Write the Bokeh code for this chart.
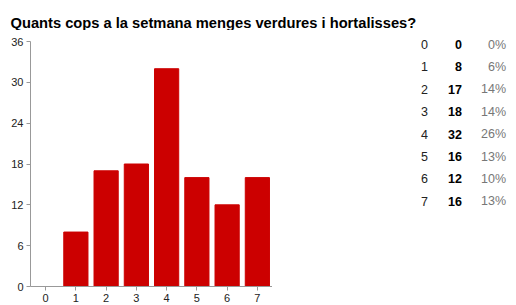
from bokeh.plotting import figure
from bokeh.models import ColumnDataSource, FixedTicker, Range1d, Label
from bokeh.layouts import column, row
from bokeh.core.properties import value
from bokeh.embed import file_html
from bokeh.resources import INLINE

title = "Quants cops a la setmana menges verdures i hortalisses?"
categories = [0, 1, 2, 3, 4, 5, 6, 7]
counts = [0, 8, 17, 18, 32, 16, 12, 16]
percents = ["0%", "6%", "14%", "14%", "26%", "13%", "10%", "13%"]
y_ticks = [0, 6, 12, 18, 24, 30, 36]

FONT = "Liberation Sans"


def bare(fig):
    fig.xaxis.visible = False
    fig.yaxis.visible = False
    fig.xgrid.visible = False
    fig.ygrid.visible = False
    fig.outline_line_color = None
    fig.min_border = 0


# ---- title strip ----
t = figure(width=516, height=30, output_backend="svg", toolbar_location=None,
           x_range=Range1d(0, 516), y_range=Range1d(0, 30))
bare(t)
t.add_layout(Label(x=10, y=8, x_units="screen", y_units="screen", text=title,
                   text_font=FONT, text_font_size="14.7px", text_font_style="bold",
                   text_color="#000000", text_baseline="alphabetic"))

# ---- bar chart ----
p = figure(width=272, height=275, output_backend="svg", toolbar_location=None,
           x_range=Range1d(-0.5, 7.5), y_range=Range1d(0, 36),
           min_border_left=30, min_border_right=0,
           min_border_top=11, min_border_bottom=19)
src = ColumnDataSource(dict(x=categories, top=counts))
p.vbar(x="x", top="top", width=0.8, bottom=0, source=src, color="#cc0000")
p.xgrid.visible = False
p.ygrid.visible = False
p.outline_line_color = None
for ax in (p.xaxis[0], p.yaxis[0]):
    ax.axis_line_color = "#999999"
    ax.major_tick_line_color = "#999999"
    ax.minor_tick_line_color = None
    ax.major_tick_in = 0
    ax.major_tick_out = 4
    ax.major_label_text_font = FONT
    ax.major_label_text_font_size = "11px"
    ax.major_label_text_color = "#222222"
    ax.major_label_standoff = 3
p.xaxis.ticker = FixedTicker(ticks=categories)
p.yaxis.ticker = FixedTicker(ticks=y_ticks)

# ---- table on the right ----
tb = figure(width=244, height=275, output_backend="svg", toolbar_location=None,
            x_range=Range1d(0, 244), y_range=Range1d(11.65, -0.625))
bare(tb)
tsrc = ColumnDataSource(dict(
    row=list(range(len(categories))),
    cat=[str(c) for c in categories],
    cnt=[str(c) for c in counts],
    pct=percents,
))
common = dict(y="row", source=tsrc, text_font=value(FONT), text_font_size="12.5px",
              text_baseline="middle")
tb.text(x=148.5, text="cat", text_align="left", text_color="#222222", **common)
tb.text(x=189.5, text="cnt", text_align="right", text_color="#000000",
        text_font_style="bold", **common)
tb.text(x=233.5, text="pct", text_align="right", text_color="#777777", **common)

layout = column(t, row(p, column(tb, spacing=0), spacing=0), spacing=0)
open("out.html", "w").write(file_html(layout, INLINE))
